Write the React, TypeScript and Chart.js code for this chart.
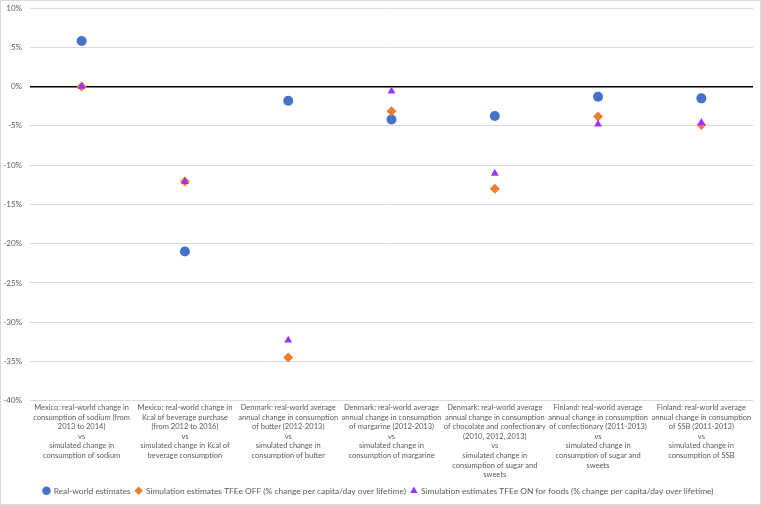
import React, { useEffect, useRef } from "react";
import { Chart, registerables } from "chart.js";

Chart.register(...registerables);

const categories: string[][] = [
  ["Mexico: real-world change in", "consumption of sodium (from", "2013 to 2014)", "vs", "simulated change in", "consumption of sodium"],
  ["Mexico: real-world change in", "Kcal of beverage purchase", "(from 2012 to 2016)", "vs", "simulated change in Kcal of", "beverage consumption"],
  ["Denmark: real-world average", "annual change in consumption", "of butter (2012-2013)", "vs", "simulated change in", "consumption of butter"],
  ["Denmark: real-world average", "annual change in consumption", "of margarine (2012-2013)", "vs", "simulated change in", "consumption of margarine"],
  ["Denmark: real-world average", "annual change in consumption", "of chocolate and confectionary", "(2010, 2012, 2013)", "vs", "simulated change in", "consumption of sugar and", "sweets"],
  ["Finland: real-world average", "annual change in consumption", "of confectionary (2011-2013)", "vs", "simulated change in", "consumption of sugar and", "sweets"],
  ["Finland: real-world average", "annual change in consumption", "of SSB (2011-2013)", "vs", "simulated change in", "consumption of SSB"],
];

const realWorld: number[] = [5.8, -21.0, -1.8, -4.2, -3.75, -1.3, -1.5];
const simOff: number[] = [0, -12.1, -34.5, -3.15, -13.0, -3.8, -4.9];
const simOn: number[] = [0, -12.1, -32.3, -0.6, -11.05, -4.8, -4.6];

const seriesNames = [
  "Real-world estimates",
  "Simulation estimates TFEe OFF (% change per capita/day over lifetime)",
  "Simulation estimates TFEe ON for foods (% change per capita/day over lifetime)",
];

const yMin = -40;
const yMax = 10;
const yStep = 5;

const FONT = "Lato, sans-serif";

const borderPlugin = {
  id: "outerBorder",
  afterDraw(chart: any) {
    const { ctx, width, height } = chart;
    ctx.save();
    ctx.strokeStyle = "#d9d9d9";
    ctx.lineWidth = 1;
    ctx.strokeRect(0.5, 0.5, width - 1, height - 1);
    ctx.restore();
  },
};

export default function App() {
  const ref = useRef<HTMLCanvasElement | null>(null);
  useEffect(() => {
    document.body.style.margin = "0";
    const canvas = ref.current!;
    const chart = new Chart(canvas, {
      type: "line",
      data: {
        labels: categories,
        datasets: [
          {
            label: seriesNames[0],
            data: realWorld,
            showLine: false,
            pointStyle: "circle",
            pointRadius: 5,
            backgroundColor: "#4472C4",
            borderColor: "#4472C4",
            borderWidth: 0,
            order: 2,
          },
          {
            label: seriesNames[1],
            data: simOff,
            showLine: false,
            pointStyle: "rectRot",
            pointRadius: 5,
            backgroundColor: "#ED7D31",
            borderColor: "#ED7D31",
            borderWidth: 0,
            order: 1,
          },
          {
            label: seriesNames[2],
            data: simOn,
            showLine: false,
            pointStyle: "triangle",
            pointRadius: 4.6,
            backgroundColor: "#9933FF",
            borderColor: "#9933FF",
            borderWidth: 0,
            order: 0,
          },
        ],
      },
      options: {
        animation: false,
        responsive: false,
        layout: { padding: { top: 0, right: 8, left: 4, bottom: 0 } },
        plugins: {
          tooltip: { enabled: false },
          legend: {
            position: "bottom",
            labels: {
              usePointStyle: true,
              boxWidth: 6,
              boxHeight: 6,
              color: "#595959",
              font: { family: FONT, size: 8.4 },
              padding: 5,
              sort: (a: any, b: any) => a.datasetIndex - b.datasetIndex,
            },
          },
        },
        scales: {
          x: {
            type: "category",
            offset: true,
            grid: { display: false, drawTicks: false },
            border: { display: false },
            ticks: {
              color: "#595959",
              font: { family: FONT, size: 7.5, lineHeight: 1.28 },
              maxRotation: 0,
              autoSkip: false,
              padding: 2,
            },
            afterFit: (s: any) => {
              s.paddingLeft = 0;
              s.paddingRight = 0;
            },
          },
          y: {
            min: yMin,
            max: yMax,
            border: { display: false },
            grid: {
              color: (c: any) => (c.tick && c.tick.value === 0 ? "#000000" : "#d9d9d9"),
              lineWidth: (c: any) => (c.tick && c.tick.value === 0 ? 1.5 : 1),
              drawTicks: false,
            },
            ticks: {
              stepSize: yStep,
              color: "#595959",
              font: { family: FONT, size: 8 },
              padding: 8,
              callback: (v: any) => `${v}%`,
            },
            afterFit: (s: any) => {
              s.width = 26;
              s.paddingTop = 8;
              s.paddingBottom = 0;
            },
          },
        },
      },
      plugins: [borderPlugin],
    });
    return () => chart.destroy();
  }, []);
  return <canvas ref={ref} width={761} height={505} style={{ display: "block" }} />;
}
